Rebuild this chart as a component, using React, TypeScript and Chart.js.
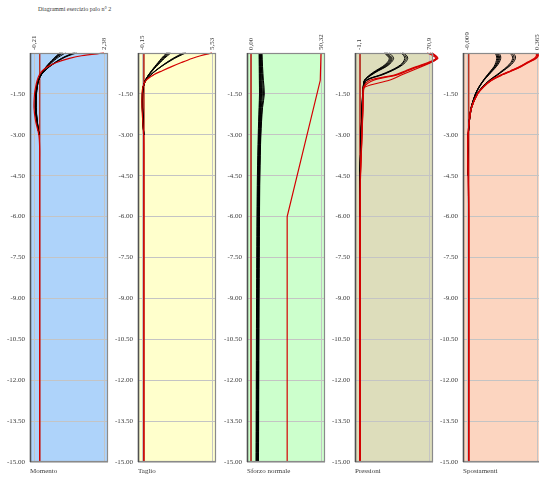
import React, { useEffect, useRef } from 'react';
import { Chart, registerables } from 'chart.js';

Chart.register(...registerables);

// ---------- text ----------
const TITLE = 'Diagrammi esercizio palo n° 2';
const PANEL_NAMES = ['Momento', 'Taglio', 'Sforzo normale', 'Pressioni', 'Spostamenti'];

// ---------- axis ticks ----------
const X_MIN_TICK = [-0.21, -0.15, 0.0, -1.1, -0.009];
const X_MAX_TICK = [2.38, 5.53, 50.32, 70.9, 0.365];
const X_TICK_LABELS = [
  ['-0,21', '2,38'],
  ['-0,15', '5,53'],
  ['0,00', '50,32'],
  ['-1,1', '70,9'],
  ['-0,009', '0,365'],
];
const Y_TICKS = [-1.5, -3, -4.5, -6, -7.5, -9, -10.5, -12, -13.5, -15];
const Y_TICK_LABELS = ['-1.50', '-3.00', '-4.50', '-6.00', '-7.50', '-9.00', '-10.50', '-12.00', '-13.50', '-15.00'];

// ---------- depths ----------
const DEPTH = [0, -0.1, -0.2, -0.35, -0.5, -0.65, -0.8, -1.0, -1.25, -1.5, -2.0, -2.5, -3.0, -3.5, -4.0, -4.5, -6.0, -15.0];
const DEPTH_N = [0, -0.5, -1.0, -1.5, -2.0, -3.0, -4.5, -6.0, -9.0, -12.0, -15.0];
const DEPTH_N_RED = [0, -1.0, -6.0, -15.0];
const ZERO_DEPTH = [0, -15];

// ---------- Momento ----------
const MOMENTO_BLACK = [
  [0.74, 0.62, 0.52, 0.37, 0.24, 0.13, 0.04, -0.04, -0.09, -0.12, -0.13, -0.09, -0.02],
  [0.78, 0.65, 0.54, 0.39, 0.25, 0.14, 0.05, -0.04, -0.09, -0.12, -0.13, -0.09, -0.02],
  [0.82, 0.68, 0.56, 0.4, 0.26, 0.14, 0.05, -0.04, -0.09, -0.12, -0.14, -0.09, -0.02],
  [0.86, 0.71, 0.58, 0.42, 0.27, 0.15, 0.05, -0.04, -0.1, -0.13, -0.14, -0.1, -0.02],
  [0.95, 0.78, 0.63, 0.45, 0.29, 0.16, 0.05, -0.05, -0.1, -0.13, -0.15, -0.1, -0.02],
  [1.25, 1.0, 0.8, 0.56, 0.35, 0.19, 0.06, -0.05, -0.11, -0.14, -0.16, -0.11, -0.02],
  [1.3, 1.03, 0.82, 0.57, 0.36, 0.19, 0.06, -0.05, -0.11, -0.15, -0.16, -0.11, -0.02],
  [1.36, 1.07, 0.85, 0.59, 0.37, 0.2, 0.06, -0.05, -0.12, -0.15, -0.17, -0.11, -0.02],
];
const MOMENTO_RED = [
  [2.38, 1.55, 1.1, 0.62, 0.3, 0.1, -0.01, -0.09, -0.15, -0.19, -0.21, -0.15, -0.03, 0, 0, 0, 0, 0],
];

// ---------- Taglio ----------
const TAGLIO_BLACK = [
  [1.85, 1.62, 1.42, 1.15, 0.88, 0.62, 0.38, 0.12, -0.05, -0.1, -0.1, -0.06, -0.01],
  [1.92, 1.68, 1.47, 1.19, 0.91, 0.64, 0.39, 0.12, -0.05, -0.1, -0.1, -0.06, -0.01],
  [2.0, 1.75, 1.53, 1.23, 0.94, 0.66, 0.4, 0.12, -0.05, -0.1, -0.11, -0.06, -0.01],
  [2.1, 1.83, 1.6, 1.28, 0.97, 0.68, 0.41, 0.12, -0.05, -0.11, -0.11, -0.06, -0.01],
  [2.2, 1.92, 1.67, 1.33, 1.0, 0.7, 0.42, 0.13, -0.05, -0.11, -0.11, -0.06, -0.01],
  [3.2, 2.75, 2.35, 1.83, 1.36, 0.93, 0.55, 0.16, -0.06, -0.12, -0.12, -0.07, -0.01],
  [3.3, 2.83, 2.42, 1.88, 1.39, 0.95, 0.56, 0.16, -0.06, -0.12, -0.13, -0.07, -0.01],
  [3.4, 2.92, 2.49, 1.93, 1.42, 0.97, 0.57, 0.17, -0.06, -0.13, -0.13, -0.07, -0.01],
];
const TAGLIO_RED = [
  [5.53, 4.6, 3.9, 3.05, 2.25, 1.5, 0.8, 0.18, -0.08, -0.14, -0.15, -0.09, -0.02, 0, 0, 0, 0, 0],
];

// ---------- Sforzo normale ----------
const SFORZO_BLACK = [
  [5.8, 5.9, 6.0, 6.1, 5.8, 5.2, 4.6, 4.3, 4.0, 3.8, 3.6],
  [6.1, 6.2, 6.3, 6.4, 6.1, 5.5, 4.9, 4.6, 4.3, 4.1, 3.9],
  [6.4, 6.5, 6.6, 6.8, 6.4, 5.8, 5.2, 4.9, 4.6, 4.4, 4.2],
  [6.7, 6.8, 7.0, 7.2, 6.7, 6.1, 5.5, 5.2, 4.9, 4.7, 4.5],
  [7.0, 7.1, 7.3, 7.6, 7.0, 6.3, 5.7, 5.4, 5.1, 4.9, 4.7],
  [7.3, 7.5, 7.8, 8.2, 7.4, 6.6, 6.0, 5.7, 5.4, 5.2, 5.0],
  [7.6, 7.9, 8.4, 9.0, 7.9, 6.9, 6.2, 5.9, 5.6, 5.4, 5.2],
  [7.9, 8.3, 8.9, 9.6, 8.3, 7.1, 6.4, 6.1, 5.8, 5.6, 5.4],
];
const SFORZO_RED = [[50.32, 49.8, 26.0, 26.0]];

// ---------- Pressioni ----------
const PRESSIONI_BLACK = [
  [25, 28, 30, 28, 23, 16, 10, 4.5, 3.2, 2.6, 2.0, 1.5, 1.0, 0.6, 0.3, 0.1, 0],
  [26, 29, 31, 29, 24, 17, 10.5, 4.6, 3.2, 2.6, 2.0, 1.5, 1.0, 0.6, 0.3, 0.1, 0],
  [27, 30, 32, 30, 25, 17.5, 11, 4.7, 3.3, 2.7, 2.1, 1.5, 1.0, 0.6, 0.3, 0.1, 0],
  [28, 31, 33, 31, 26, 18, 11.5, 4.8, 3.3, 2.7, 2.1, 1.6, 1.0, 0.6, 0.3, 0.1, 0],
  [30, 33, 34.5, 32, 27, 19, 12, 5, 3.4, 2.8, 2.1, 1.6, 1.1, 0.6, 0.3, 0.1, 0],
  [42, 45, 46, 44, 39, 31, 21, 6, 3.5, 2.9, 2.2, 1.6, 1.1, 0.6, 0.3, 0.1, 0],
  [43.5, 46.5, 47.5, 45, 40, 32, 22, 6.5, 3.6, 2.9, 2.2, 1.6, 1.1, 0.6, 0.3, 0.1, 0],
  [45, 48, 49, 46.5, 41, 33, 23, 7, 3.7, 3.0, 2.3, 1.7, 1.1, 0.6, 0.3, 0.1, 0],
];
const PRESSIONI_RED = [
  [69, 75, 78, 70, 58, 47, 36, 10, 3.5, 3.0, 2.8, 2.3, 1.8, 1.3, 0.8, 0.4, 0, 0],
  [72, 77, 79, 72, 60, 49, 38, 14, 4, 3.2, 2.9, 2.4, 1.9, 1.4, 0.9, 0.4, 0, 0],
  [74, 78, 80, 73, 63, 53, 43, 30, 5, 3.4, 3.0, 2.5, 2.0, 1.5, 0.9, 0.4, 0, 0],
];

// ---------- Spostamenti ----------
const SPOST_BLACK = [
  [0.14, 0.148, 0.15, 0.145, 0.135, 0.118, 0.1, 0.078, 0.054, 0.036, 0.013, 0.003, -0.002, -0.004, -0.004, -0.002],
  [0.145, 0.153, 0.155, 0.15, 0.138, 0.12, 0.102, 0.079, 0.055, 0.036, 0.013, 0.003, -0.002, -0.004, -0.004, -0.002],
  [0.15, 0.158, 0.16, 0.154, 0.141, 0.123, 0.104, 0.08, 0.055, 0.037, 0.013, 0.003, -0.002, -0.004, -0.004, -0.002],
  [0.155, 0.163, 0.165, 0.158, 0.144, 0.125, 0.106, 0.081, 0.056, 0.037, 0.014, 0.003, -0.002, -0.004, -0.004, -0.002],
  [0.162, 0.17, 0.171, 0.163, 0.148, 0.128, 0.108, 0.082, 0.057, 0.038, 0.014, 0.003, -0.002, -0.004, -0.004, -0.002],
  [0.22, 0.232, 0.235, 0.225, 0.205, 0.178, 0.15, 0.11, 0.072, 0.045, 0.016, 0.004, -0.002, -0.004, -0.004, -0.002],
  [0.228, 0.24, 0.242, 0.231, 0.21, 0.182, 0.153, 0.112, 0.073, 0.046, 0.016, 0.004, -0.002, -0.004, -0.004, -0.002],
  [0.236, 0.248, 0.25, 0.238, 0.215, 0.186, 0.156, 0.114, 0.074, 0.046, 0.016, 0.004, -0.002, -0.004, -0.004, -0.002],
];
const SPOST_RED = [
  [0.36, 0.362, 0.35, 0.31, 0.272, 0.225, 0.175, 0.12, 0.077, 0.047, 0.015, 0.003, -0.003, -0.005, -0.004, -0.002, 0, 0],
  [0.365, 0.368, 0.356, 0.315, 0.276, 0.228, 0.177, 0.121, 0.078, 0.047, 0.015, 0.003, -0.003, -0.005, -0.004, -0.002, 0, 0],
  [0.37, 0.372, 0.36, 0.32, 0.28, 0.232, 0.18, 0.123, 0.079, 0.048, 0.015, 0.003, -0.003, -0.005, -0.004, -0.002, 0, 0],
];

// ---------- layout & style ----------
const PANEL_LEFT = [30, 138, 247, 355, 463];
const PLOT_W = 78;
const Y_AXIS_W = 30;
const RIGHT_PAD = 8;
const TOP_AXIS_H = 53;
const BOTTOM_AXIS_H = 17;
const CANVAS_W = Y_AXIS_W + PLOT_W + RIGHT_PAD;
const CANVAS_H = 479;
const PANEL_BG = ['#AED3FA', '#FFFFCC', '#CCFFCC', '#DDDDBB', '#FCD5C0'];
const FONT_FAMILY = "'Liberation Serif', 'Times New Roman', serif";
const TEXT_COLOR = '#3a3a3a';
const GRID_COLOR = '#c4c4c4';
const BLACK = '#000000';
const RED = '#d40000';
const ZERO_RED = '#b83224';

type PanelSpec = {
  black: number[][];
  blackDepth: number[];
  red: number[][];
  redDepth: number[];
  redTension: number;
};

const PANELS: PanelSpec[] = [
  { black: MOMENTO_BLACK, blackDepth: DEPTH, red: MOMENTO_RED, redDepth: DEPTH, redTension: 0.3 },
  { black: TAGLIO_BLACK, blackDepth: DEPTH, red: TAGLIO_RED, redDepth: DEPTH, redTension: 0.3 },
  { black: SFORZO_BLACK, blackDepth: DEPTH_N, red: SFORZO_RED, redDepth: DEPTH_N_RED, redTension: 0 },
  { black: PRESSIONI_BLACK, blackDepth: DEPTH, red: PRESSIONI_RED, redDepth: DEPTH, redTension: 0.3 },
  { black: SPOST_BLACK, blackDepth: DEPTH, red: SPOST_RED, redDepth: DEPTH, redTension: 0.3 },
];

const toPoints = (vals: number[], depths: number[]) => vals.map((v, i) => ({ x: v, y: depths[i] }));

const framePlugin = {
  id: 'panelFrame',
  beforeDraw(chart: any, _args: any, opts: any) {
    const { ctx, chartArea: a } = chart;
    ctx.save();
    ctx.fillStyle = opts.bg;
    ctx.fillRect(a.left, a.top, a.right - a.left, a.bottom - a.top);
    ctx.restore();
  },
  afterDraw(chart: any) {
    const { ctx, chartArea: a } = chart;
    ctx.save();
    ctx.strokeStyle = '#8a8a8a';
    ctx.lineWidth = 1.2;
    ctx.strokeRect(a.left + 0.5, a.top + 0.5, a.right - a.left - 1, a.bottom - a.top - 1);
    ctx.strokeStyle = '#505050';
    ctx.lineWidth = 1.5;
    ctx.beginPath();
    ctx.moveTo(a.left + 0.5, a.top);
    ctx.lineTo(a.left + 0.5, a.bottom);
    ctx.stroke();
    ctx.restore();
  },
};

function Panel({ idx }: { idx: number }) {
  const ref = useRef<HTMLCanvasElement>(null);
  useEffect(() => {
    const p = PANELS[idx];
    const lo = X_MIN_TICK[idx];
    const hi = X_MAX_TICK[idx];
    const pad = ((hi - lo) * 4) / 70;
    const labels = X_TICK_LABELS[idx];
    const font = { family: FONT_FAMILY, size: 7 };

    const datasets: any[] = [];
    datasets.push({
      data: toPoints([0, 0], ZERO_DEPTH),
      borderColor: ZERO_RED,
      borderWidth: 1,
      pointRadius: 0,
      tension: 0,
      order: 3,
      xAxisID: 'x',
      yAxisID: 'y',
      clip: false,
    });
    p.black.forEach((s) =>
      datasets.push({
        data: toPoints(s, p.blackDepth),
        borderColor: BLACK,
        borderWidth: 1,
        pointRadius: 0,
        tension: 0.3,
        order: 2,
        xAxisID: 'x',
        yAxisID: 'y',
        clip: false,
      })
    );
    p.red.forEach((s) =>
      datasets.push({
        data: toPoints(s, p.redDepth),
        borderColor: RED,
        borderWidth: 1.2,
        pointRadius: 0,
        tension: p.redTension,
        order: 1,
        xAxisID: 'x',
        yAxisID: 'y',
        clip: false,
      })
    );

    const chart = new Chart(ref.current as HTMLCanvasElement, {
      type: 'line',
      data: { datasets },
      options: {
        responsive: false,
        animation: false,
        events: [],
        layout: { padding: { left: 0, right: RIGHT_PAD, top: 0, bottom: 0 } },
        plugins: {
          legend: { display: false },
          tooltip: { enabled: false },
          title: { display: false },
          panelFrame: { bg: PANEL_BG[idx] },
        } as any,
        scales: {
          x: {
            type: 'linear',
            position: 'top',
            min: lo - pad,
            max: hi + pad,
            afterBuildTicks: (s: any) => {
              s.ticks = [{ value: lo }, { value: hi }];
            },
            afterFit: (s: any) => {
              s.height = TOP_AXIS_H;
            },
            ticks: {
              autoSkip: false,
              minRotation: 90,
              maxRotation: 90,
              padding: 3,
              labelOffset: 9,
              font,
              color: TEXT_COLOR,
              callback: (_v: any, i: number) => labels[i],
            },
            grid: { color: GRID_COLOR, drawTicks: false, lineWidth: 1 },
            border: { display: false },
          },
          xb: {
            type: 'linear',
            position: 'bottom',
            ticks: { display: false },
            grid: { display: false, drawTicks: false },
            border: { display: false },
            title: {
              display: true,
              text: PANEL_NAMES[idx],
              align: 'start',
              font,
              color: TEXT_COLOR,
              padding: { top: 0, bottom: 4 },
            },
            afterFit: (s: any) => {
              s.height = BOTTOM_AXIS_H;
            },
          },
          y: {
            type: 'linear',
            min: -15,
            max: 0,
            afterBuildTicks: (s: any) => {
              s.ticks = Y_TICKS.map((v) => ({ value: v }));
            },
            afterFit: (s: any) => {
              s.width = Y_AXIS_W;
            },
            ticks: {
              autoSkip: false,
              padding: 5,
              font,
              color: TEXT_COLOR,
              callback: (_v: any, i: number) => Y_TICK_LABELS[i],
            },
            grid: { color: GRID_COLOR, drawTicks: false, lineWidth: 1 },
            border: { display: false },
          },
        } as any,
      },
      plugins: [framePlugin],
    } as any);
    return () => chart.destroy();
  }, [idx]);

  return (
    <canvas
      ref={ref}
      width={CANVAS_W}
      height={CANVAS_H}
      style={{ position: 'absolute', left: PANEL_LEFT[idx] - Y_AXIS_W, top: 0, width: CANVAS_W, height: CANVAS_H }}
    />
  );
}

export default function App() {
  return (
    <div
      style={{
        position: 'absolute',
        left: 0,
        top: 0,
        width: 539,
        height: 479,
        overflow: 'hidden',
        background: '#ffffff',
      }}
    >
      <div
        style={{
          position: 'absolute',
          left: 38,
          top: 5,
          fontFamily: FONT_FAMILY,
          fontSize: 6,
          lineHeight: '8px',
          color: TEXT_COLOR,
          whiteSpace: 'nowrap',
        }}
      >
        {TITLE}
      </div>
      {PANELS.map((_, i) => (
        <Panel key={i} idx={i} />
      ))}
    </div>
  );
}
